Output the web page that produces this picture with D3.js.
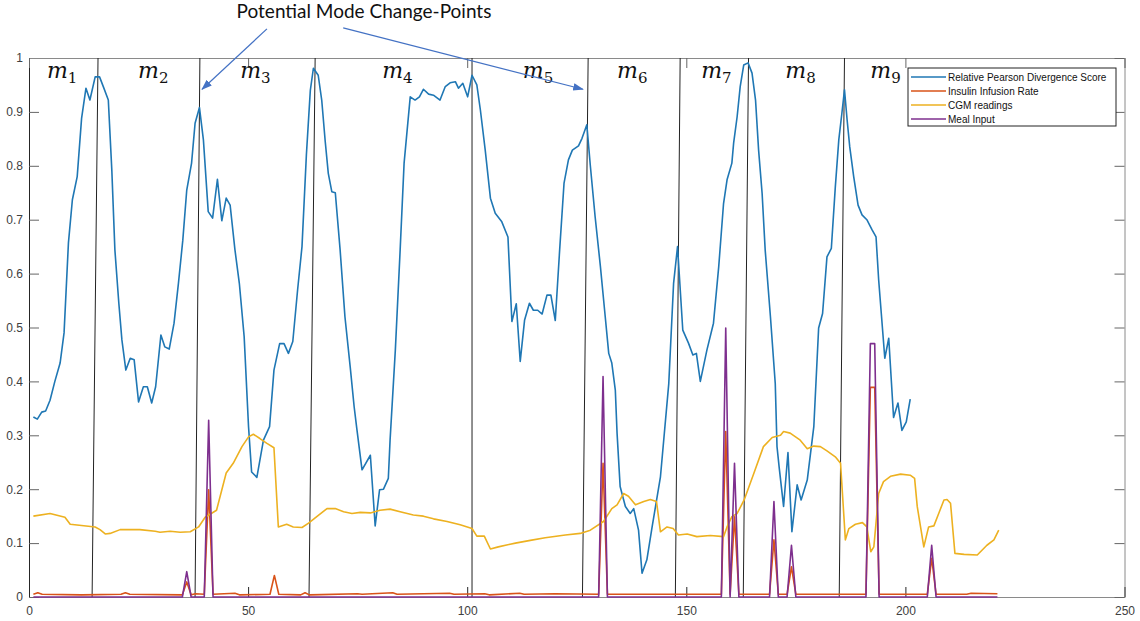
<!DOCTYPE html>
<meta charset="utf-8">
<head>
<style>
  body { margin: 0; background: #fff; }
  text { font-family: "Liberation Sans", Arial, sans-serif; }
</style>
</head>
<script src="https://cdn.jsdelivr.net/npm/d3@7"></script>
<body>
<div id="chart"></div>
</body>
<script>

// Relative Pearson Divergence score
var rpdX = [1.0,1.9,2.9,3.8,4.8,5.9,7.1,8.0,9.0,9.9,11.0,12.0,13.0,13.9,15.1,16.1,17.0,18.1,18.9,19.6,
  20.5,21.2,22.1,23.1,24.0,25.0,26.1,27.0,28.0,28.9,30.1,31.0,32.0,33.1,34.1,35.1,36.0,37.1,37.9,38.9,
  39.8,40.9,41.9,43.0,44.0,45.0,45.9,47.0,48.0,49.1,50.1,50.8,52.0,53.5,54.9,55.9,57.2,58.2,59.2,60.2,
  61.3,62.3,63.3,64.2,64.9,66.0,66.8,67.6,68.3,69.1,69.9,71.0,72.1,73.3,74.2,74.8,76.0,77.9,79.0,80.0,
  80.9,82.0,82.4,83.6,84.7,85.6,87.0,88.1,89.1,90.0,91.2,92.3,93.8,95.0,96.1,97.3,98.0,99.0,100.1,101.1,
  102.2,103.0,104.1,105.3,106.4,107.9,109.3,110.2,111.2,112.1,113.1,114.2,115.1,116.1,117.1,118.2,119.1,120.1,121.1,122.1,
  123.1,124.0,125.4,126.2,127.3,128.1,129.2,130.4,131.5,132.3,133.0,133.8,134.2,134.9,136.1,137.2,138.0,139.1,139.9,141.0,
  142.2,144.1,146.0,147.1,148.0,149.2,150.5,151.5,152.3,153.2,154.7,156.2,157.4,158.5,159.3,160.4,160.8,161.6,162.3,163.1,
  164.1,165.0,165.8,166.5,167.3,168.0,169.2,170.3,170.7,171.2,172.2,173.2,174.1,175.3,176.2,177.6,179.1,180.2,181.1,182.1,
  183.1,184.0,184.8,185.5,186.1,186.7,187.3,188.2,189.2,190.1,191.2,192.4,193.3,193.9,194.5,195.3,196.2,197.3,198.3,199.2,
  200.2,201.1];
var rpdY = [0.334,0.330,0.343,0.345,0.365,0.400,0.434,0.490,0.657,0.737,0.780,0.888,0.944,0.922,0.965,0.965,0.946,0.922,0.792,0.644,
  0.545,0.477,0.421,0.443,0.440,0.362,0.390,0.390,0.360,0.390,0.486,0.464,0.460,0.508,0.582,0.662,0.755,0.805,0.879,0.908,
  0.848,0.715,0.703,0.775,0.698,0.740,0.727,0.644,0.582,0.483,0.316,0.232,0.222,0.291,0.316,0.421,0.470,0.470,0.452,0.474,
  0.570,0.650,0.820,0.940,0.981,0.968,0.922,0.845,0.786,0.752,0.750,0.644,0.520,0.427,0.353,0.313,0.236,0.263,0.132,0.199,
  0.200,0.220,0.291,0.458,0.644,0.805,0.928,0.922,0.928,0.942,0.933,0.931,0.922,0.947,0.954,0.956,0.944,0.953,0.928,0.968,
  0.950,0.904,0.830,0.740,0.712,0.696,0.668,0.511,0.544,0.437,0.514,0.545,0.532,0.532,0.525,0.560,0.560,0.513,0.644,0.768,
  0.811,0.829,0.837,0.851,0.876,0.800,0.705,0.613,0.520,0.452,0.434,0.384,0.304,0.205,0.168,0.155,0.164,0.124,0.044,0.069,
  0.130,0.223,0.396,0.582,0.650,0.495,0.471,0.449,0.452,0.400,0.458,0.508,0.613,0.730,0.774,0.805,0.842,0.891,0.947,0.987,
  0.991,0.972,0.922,0.829,0.749,0.644,0.520,0.396,0.279,0.240,0.168,0.268,0.121,0.208,0.180,0.217,0.316,0.499,0.526,0.631,
  0.647,0.760,0.848,0.897,0.941,0.885,0.835,0.780,0.727,0.709,0.700,0.681,0.668,0.588,0.526,0.443,0.480,0.333,0.360,0.309,
  0.325,0.367];

// CGM readings
var cgmX = [1,4.8,8.2,9.4,15.1,16.2,17.4,18.5,20.8,25.3,28.8,29.9,32.2,34.5,36.8,38.7,40.2,42.8,45.0,46.6,
  48.6,50.1,51.2,52.7,54.3,55.9,56.9,58.8,60.3,62.3,63.8,66.1,68.0,69.9,71.8,73.7,75.6,77.9,80.1,82.4,
  84.7,87.7,90.0,92.3,95.4,98.4,101.1,102.2,103.9,105.3,107.1,109.8,111.0,114.4,117.8,122.4,125.8,128.1,131.1,133.0,
  134.2,135.7,136.8,138.4,140.3,141.8,143.2,144.1,145.6,147.0,148.2,150.2,152.4,155.5,158.5,159.3,160.4,161.6,163.2,165.4,
  167.6,169.6,171.5,172.2,173.7,176.0,177.6,179.1,180.6,182.1,184.0,185.2,186.3,187.1,188.6,190.2,191.2,192.1,192.8,193.9,
  195.0,196.6,198.9,201.1,202.1,202.7,204.2,205.3,206.5,207.6,208.8,209.5,210.3,211.3,213.4,216.4,218.6,220.2,221.3];
var cgmY = [0.150,0.155,0.148,0.135,0.130,0.125,0.117,0.118,0.125,0.125,0.122,0.120,0.122,0.120,0.121,0.130,0.148,0.161,0.230,0.248,
  0.279,0.297,0.302,0.294,0.285,0.277,0.130,0.135,0.130,0.129,0.137,0.152,0.164,0.164,0.158,0.155,0.157,0.156,0.161,0.163,
  0.158,0.152,0.150,0.145,0.140,0.134,0.127,0.113,0.113,0.089,0.093,0.098,0.100,0.105,0.110,0.115,0.118,0.124,0.140,0.164,
  0.171,0.192,0.187,0.171,0.177,0.181,0.177,0.121,0.130,0.127,0.115,0.117,0.112,0.114,0.112,0.130,0.149,0.155,0.180,0.229,
  0.279,0.296,0.300,0.307,0.304,0.291,0.275,0.280,0.279,0.271,0.260,0.248,0.106,0.127,0.135,0.138,0.130,0.084,0.093,0.192,
  0.214,0.224,0.228,0.226,0.220,0.168,0.093,0.130,0.132,0.155,0.180,0.181,0.174,0.081,0.079,0.078,0.096,0.106,0.124];

// Insulin infusion rate
var insX = [1,2,3,12,21,22,23,35,36,37,38,40,41,42,47,48,55,56,57,62,63,64,75,76,83,84,96,97,104,105,
  112,113,120,130,131,132,158,159,160,161,162,169,170,171,173,174,175,191,192,193,194,205,206,207,214,215,221];
var insY = [0.005,0.008,0.005,0.004,0.005,0.008,0.005,0.004,0.028,0.004,0.006,0.005,0.199,0.005,0.007,0.004,0.005,0.040,0.005,0.004,
  0.008,0.004,0.006,0.005,0.008,0.005,0.007,0.005,0.006,0.004,0.007,0.005,0.006,0.005,0.248,0.005,0.005,0.307,0.005,0.149,
  0.005,0.005,0.106,0.005,0.005,0.056,0.005,0.005,0.389,0.389,0.005,0.005,0.072,0.005,0.005,0.007,0.006];

// Meal input
var mealX = [1,35,36,37,40,41,42,130,131,132,158,159,160,161,162,169,170,171,173,174,175,191,192,193,194,205,206,207,221];
var mealY = [0,0,0.047,0,0,0.328,0,0,0.409,0,0,0.499,0,0.248,0,0,0.177,0,0,0.096,0,0,0.47,0.47,0,0,0.096,0,0];

// potential change points (x at top and at bottom of the drawn line)
var cpTop = [15.75, 39.0, 65.3, 101.1, 127.6, 148.6, 164.2, 186.1];
var cpBottom = [14.4, 37.9, 63.9, 101.1, 126.3, 147.5, 163.0, 184.9];

// mode labels
var modeNames = ["1","2","3","4","5","6","7","8","9"];
var modeX = [4.1, 24.9, 48.2, 80.6, 112.7, 134.2, 153.4, 172.6, 192.0];

var seriesNames = ["Relative Pearson Divergence Score", "Insulin Infusion Rate", "CGM readings", "Meal Input"];
var seriesColors = ["#1f77b4", "#d95319", "#edb120", "#7e2f8e"];

var xTicks = [0, 50, 100, 150, 200, 250];
var yTicks = [0, 0.1, 0.2, 0.3, 0.4, 0.5, 0.6, 0.7, 0.8, 0.9, 1];

var W = 1140, H = 621;

var svg = d3.select("#chart").append("svg")
  .attr("width", W).attr("height", H);

var x = d3.scaleLinear().domain([0, 250]).range([29, 1124.5]);
var y = d3.scaleLinear().domain([0, 1]).range([597, 58]);

// axes (MATLAB box style, ticks pointing in)
var xAxis = svg.append("g")
  .attr("transform", "translate(0," + y(0) + ")")
  .call(d3.axisBottom(x).tickValues(xTicks).tickSize(-10).tickPadding(9).tickFormat(d3.format("d")));
var yAxis = svg.append("g")
  .attr("transform", "translate(" + x(0) + ",0)")
  .call(d3.axisLeft(y).tickValues(yTicks).tickSize(-10).tickPadding(6).tickFormat(function(d) { return d3.format("~g")(d); }));
var topAxis = svg.append("g")
  .attr("transform", "translate(0," + y(1) + ")")
  .call(d3.axisTop(x).tickValues(xTicks).tickSize(-10).tickFormat(""));
var rightAxis = svg.append("g")
  .attr("transform", "translate(" + x(250) + ",0)")
  .call(d3.axisRight(y).tickValues(yTicks).tickSize(-10).tickFormat(""));

[xAxis, yAxis].forEach(function(a) {
  a.selectAll("text").style("font-size", "12px").attr("fill", "#404040");
});
xAxis.select(".domain").attr("stroke", "#8a8a8a");
yAxis.select(".domain").attr("stroke", "#262626");
topAxis.select(".domain").attr("stroke", "#8a8a8a");
rightAxis.select(".domain").attr("stroke", "#8a8a8a");
xAxis.selectAll(".tick line").attr("stroke", "#262626");
yAxis.selectAll(".tick line").attr("stroke", "#666");
topAxis.selectAll(".tick line").attr("stroke", "#666");
rightAxis.selectAll(".tick line").attr("stroke", "#666");

// change-point lines
svg.append("g").selectAll("line")
  .data(cpTop)
  .enter().append("line")
    .attr("x1", function(d) { return x(d); })
    .attr("y1", y(1))
    .attr("x2", function(d, i) { return x(cpBottom[i]); })
    .attr("y2", y(0))
    .attr("stroke", "#222")
    .attr("stroke-width", 1);

// series lines
var line = d3.line()
  .x(function(d) { return x(d[0]); })
  .y(function(d) { return y(d[1]); });

function pairs(xs, ys) { return xs.map(function(v, i) { return [v, ys[i]]; }); }

var allSeries = [pairs(rpdX, rpdY), pairs(insX, insY), pairs(cgmX, cgmY), pairs(mealX, mealY)];

svg.append("g").selectAll("path")
  .data(allSeries)
  .enter().append("path")
    .attr("d", line)
    .attr("fill", "none")
    .attr("stroke", function(d, i) { return seriesColors[i]; })
    .attr("stroke-width", 1.6)
    .attr("stroke-linejoin", "round");

// mode labels m_1 ... m_9
var labels = svg.append("g").selectAll("text")
  .data(modeNames)
  .enter().append("text")
    .attr("x", function(d, i) { return x(modeX[i]); })
    .attr("y", y(0.962))
    .style("font-family", "'DejaVu Serif', serif")
    .style("font-style", "italic")
    .style("font-size", "22px")
    .attr("fill", "#111");
labels.append("tspan").text("m");
labels.append("tspan")
  .attr("dy", 5)
  .style("font-style", "normal")
  .style("font-size", "15px")
  .text(function(d) { return d; });

// annotation + arrows
svg.append("defs").append("marker")
  .attr("id", "arrow")
  .attr("viewBox", "0 0 10 10")
  .attr("refX", 9).attr("refY", 5)
  .attr("markerWidth", 9).attr("markerHeight", 9)
  .attr("orient", "auto-start-reverse")
  .append("path")
    .attr("d", "M0,1.5 L10,5 L0,8.5 Z")
    .attr("fill", "#4472c4");

svg.append("text")
  .attr("x", 364)
  .attr("y", 18)
  .attr("text-anchor", "middle")
  .style("font-family", "Lato, 'Open Sans', sans-serif")
  .style("font-size", "19px")
  .attr("fill", "#111")
  .text("Potential Mode Change-Points");

var arrows = [[54.3, 1.054, 39.5, 0.942], [71.7, 1.056, 126.4, 0.942]];
svg.append("g").selectAll("line")
  .data(arrows)
  .enter().append("line")
    .attr("x1", function(d) { return x(d[0]); })
    .attr("y1", function(d) { return y(d[1]); })
    .attr("x2", function(d) { return x(d[2]); })
    .attr("y2", function(d) { return y(d[3]); })
    .attr("stroke", "#4472c4")
    .attr("stroke-width", 1.2)
    .attr("marker-end", "url(#arrow)");

// legend
var legend = svg.append("g").attr("transform", "translate(908,68)");
legend.append("rect")
  .attr("width", 208).attr("height", 58)
  .attr("fill", "#fff").attr("stroke", "#222").attr("stroke-width", 1);
var rows = legend.selectAll("g.row")
  .data(seriesNames)
  .enter().append("g")
    .attr("class", "row")
    .attr("transform", function(d, i) { return "translate(0," + (9 + i * 14) + ")"; });
rows.append("line")
  .attr("x1", 3).attr("x2", 38)
  .attr("stroke", function(d, i) { return seriesColors[i]; })
  .attr("stroke-width", 1.4);
rows.append("text")
  .attr("x", 40)
  .attr("dy", "0.35em")
  .style("font-size", "10px")
  .attr("fill", "#111")
  .text(function(d) { return d; });

</script>
